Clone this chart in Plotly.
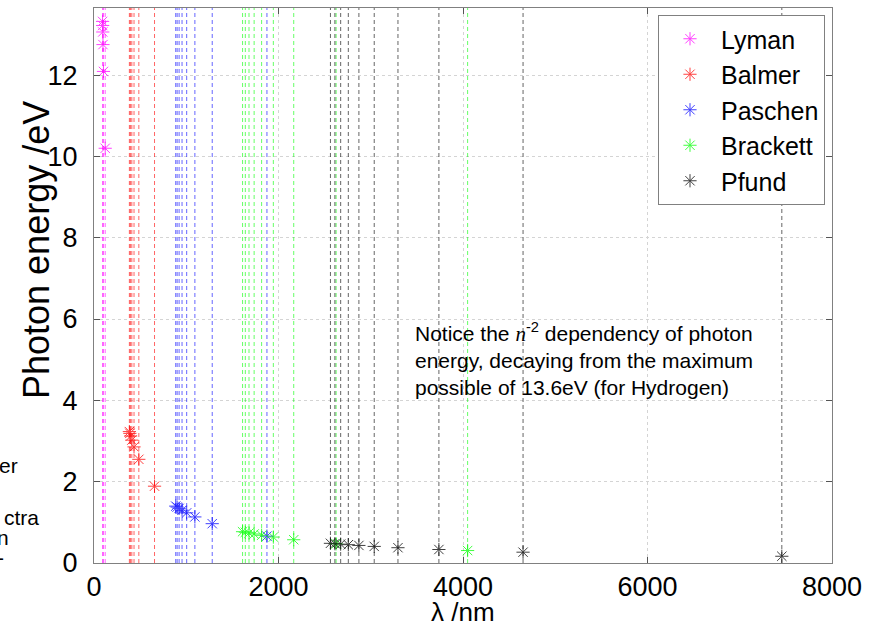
import plotly.graph_objects as go

# Wavelengths (nm) and photon energies (eV)
series_names = ["Lyman", "Balmer", "Paschen", "Brackett", "Pfund"]
series_colors = ["#ff00ff", "#ff0000", "#0000ff", "#00ff00", "#000000"]

lyman_wl = [121.5, 102.5, 97.2, 94.9, 93.7, 93.0]
lyman_e = [10.20, 12.09, 12.75, 13.06, 13.22, 13.32]

balmer_wl = [656.1, 486.0, 433.9, 410.1, 396.9, 388.8, 383.5]
balmer_e = [1.889, 2.550, 2.856, 3.022, 3.122, 3.188, 3.232]

paschen_wl = [1874.7, 1281.5, 1093.6, 1004.7, 954.4, 922.7, 901.3, 886.1]
paschen_e = [0.661, 0.967, 1.133, 1.234, 1.299, 1.343, 1.375, 1.399]

brackett_wl = [4050.0, 2624.6, 2165.0, 1944.1, 1817.0, 1735.8, 1680.3, 1640.3, 1610.5]
brackett_e = [0.306, 0.472, 0.572, 0.638, 0.682, 0.714, 0.738, 0.756, 0.770]

pfund_wl = [7456.0, 4651.0, 3738.7, 3295.0, 3037.7, 2871.5, 2756.9, 2673.8, 2611.3, 2563.0]
pfund_e = [0.166, 0.266, 0.332, 0.376, 0.408, 0.432, 0.450, 0.464, 0.475, 0.484]

x_ticks = [0, 2000, 4000, 6000, 8000]
y_ticks = [0, 2, 4, 6, 8, 10, 12]
x_range = [0, 8000]
y_range = [0, 13.65]

all_wl = [lyman_wl, balmer_wl, paschen_wl, brackett_wl, pfund_wl]
all_e = [lyman_e, balmer_e, paschen_e, brackett_e, pfund_e]

fig = go.Figure()

# vertical dashed lines at each wavelength
for name, col, wl in zip(series_names, series_colors, all_wl):
    xs, ys = [], []
    for w in wl:
        xs += [w, w, None]
        ys += [y_range[0], y_range[1], None]
    fig.add_trace(go.Scatter(
        x=xs, y=ys, mode="lines", showlegend=False, hoverinfo="skip",
        line=dict(color=col, width=1, dash="4px,3px"), opacity=0.6))

# markers
for name, col, wl, en in zip(series_names, series_colors, all_wl, all_e):
    fig.add_trace(go.Scatter(
        x=wl, y=en, mode="markers", name=name,
        marker=dict(symbol="asterisk-open", size=11, color=col,
                    line=dict(color=col, width=1)),
        opacity=0.75))

L, R, T, B = 94, 41, 8, 63
W, H = 873, 626
pw, ph = W - L - R, H - T - B

def px_to_paper_x(px):
    return (px - L) / pw

def px_to_paper_y(py):
    return (H - B - py) / ph

axis_common = dict(
    showline=True, linecolor="#808080", linewidth=1, mirror="ticks",
    ticks="inside", ticklen=6, tickcolor="#555555",
    showgrid=True, gridcolor="#d4d4d4", griddash="dot", gridwidth=1,
    zeroline=False, automargin=False,
    tickfont=dict(family="Liberation Sans, Arial", size=27, color="#000"),
)

fig.update_layout(
    width=W, height=H,
    margin=dict(l=L, r=R, t=T, b=B, autoexpand=False),
    plot_bgcolor="white", paper_bgcolor="white",
    xaxis=dict(range=x_range, tickvals=x_ticks, ticktext=[str(v) for v in x_ticks], **axis_common),
    yaxis=dict(range=y_range, tickvals=y_ticks, ticktext=[str(v) for v in y_ticks],
               ticklabelstandoff=10, **axis_common),
    legend=dict(
        x=px_to_paper_x(825), y=px_to_paper_y(15), xanchor="right", yanchor="top",
        bgcolor="white", bordercolor="#808080", borderwidth=1,
        font=dict(family="Liberation Sans, Arial", size=25, color="#000"),
        itemwidth=52, tracegroupgap=0,
    ),
    showlegend=True,
)

font_main = "Liberation Sans, Arial"
annotations = [
    dict(text="Photon energy /eV", textangle=-90, x=px_to_paper_x(36), y=px_to_paper_y(250),
         xref="paper", yref="paper", showarrow=False, xanchor="center", yanchor="middle",
         font=dict(family=font_main, size=36, color="#000")),
    dict(text="λ /nm", x=px_to_paper_x(463), y=px_to_paper_y(612),
         xref="paper", yref="paper", showarrow=False, xanchor="center", yanchor="middle",
         font=dict(family=font_main, size=26, color="#000")),
    dict(text=("Notice the <span style='font-family:Liberation Serif;font-style:italic'>n</span>"
               "<sup>-2</sup> dependency of photon<br>energy, decaying from the maximum<br>"
               "possible of 13.6eV (for Hydrogen)"),
         x=px_to_paper_x(413), y=px_to_paper_y(317), xref="paper", yref="paper",
         showarrow=False, xanchor="left", yanchor="top", align="left",
         font=dict(family=font_main, size=21, color="#000")),
]
# clipped text fragments at the left edge
for frag, rx, cy in [("er", 20, 465), ("ctra", 41, 517), ("n", 11, 537), ("-", 6, 557)]:
    annotations.append(dict(text=frag, x=px_to_paper_x(rx), y=px_to_paper_y(cy),
                            xref="paper", yref="paper", showarrow=False,
                            xanchor="right", yanchor="middle",
                            font=dict(family=font_main, size=21, color="#000")))
fig.update_layout(annotations=annotations)

fig.write_html("out.html", config={"displayModeBar": False},
               post_script="document.body.style.margin='0';")
